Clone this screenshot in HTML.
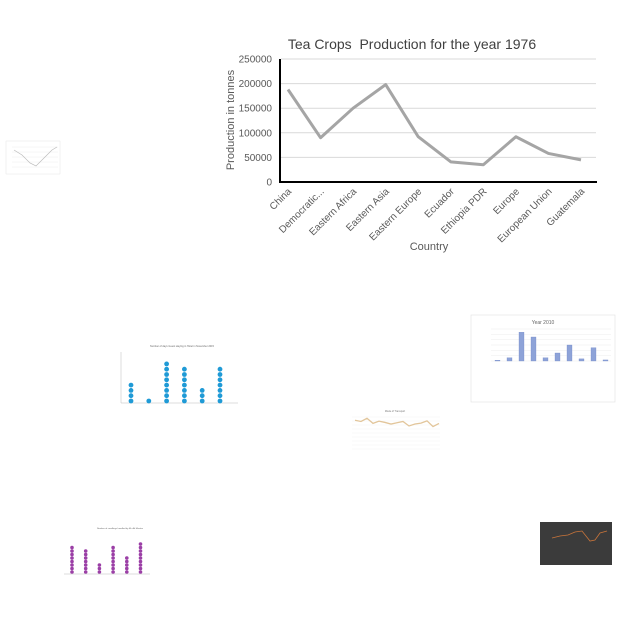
<!DOCTYPE html>
<html><head><meta charset="utf-8"><style>
html,body{margin:0;padding:0;background:#fff;}
svg{display:block;font-family:"Liberation Sans",sans-serif;}
</style></head><body>
<svg width="640" height="640" viewBox="0 0 640 640">
<g id="main"></g>
<g id="thumbs"></g>
</svg>
<script>
const categories=["China","Democratic...","Eastern Africa","Eastern Asia","Eastern Europe","Ecuador","Ethiopia PDR","Europe","European Union","Guatemala"];
const production=[188000,90000,150000,198000,92000,41000,35000,92000,58000,45000];
const yTicks=[0,50000,100000,150000,200000,250000];
const dotCountsBlue=[4,1,8,7,3,7];
const barValues2010=[15,60,540,450,60,150,300,40,250,20];
const lineValues1975=[90,86,96,80,87,83,78,82,86,72,78,81,88,70,80];
const dotCountsPurple=[8,7,3,8,5,9];

const NS="http://www.w3.org/2000/svg";
function el(p,t,a){const e=document.createElementNS(NS,t);for(const k in a)e.setAttribute(k,a[k]);p.appendChild(e);return e;}
const main=document.getElementById('main');
const x0=288,step=(581-288)/9,yBase=182,yTop=59;
const xs=i=>x0+i*step;
const ys=v=>yBase-(v/250000)*(yBase-yTop);

let t=el(main,'text',{x:412,y:49,'text-anchor':'middle','font-size':14,fill:'#404040'});t.textContent="Tea Crops\u00a0 Production for the year 1976";


yTicks.forEach(v=>{
  const y=ys(v);
  if(v>0){const g=el(main,'line',{x1:281,x2:596,y1:y,y2:y,stroke:'#d9d9d9','stroke-width':1});
  
  }
  const l=el(main,'text',{x:272,y:y+3.5,'text-anchor':'end','font-size':10,fill:'#595959'});l.textContent=v;
  
  
});
let a=el(main,'line',{x1:280,x2:280,y1:59,y2:183,stroke:'#000','stroke-width':2});


a=el(main,'line',{x1:279,x2:597,y1:182,y2:182,stroke:'#000','stroke-width':2});


categories.forEach((c,i)=>{
  const x=xs(i)+4,y=192;
  const l=el(main,'text',{x:x,y:y,'text-anchor':'end','font-size':10,fill:'#595959',transform:`rotate(-45 ${x} ${y})`});l.textContent=c;
  
  
});
const p=el(main,'polyline',{points:production.map((v,i)=>xs(i)+','+ys(v)).join(' '),fill:'none',stroke:'#a5a5a5','stroke-width':3,'stroke-linejoin':'round'});


t=el(main,'text',{x:234,y:120,'text-anchor':'middle','font-size':11,fill:'#595959',transform:'rotate(-90 234 120)'});t.textContent="Production in tonnes";


t=el(main,'text',{x:429,y:250,'text-anchor':'middle','font-size':11,fill:'#595959'});t.textContent="Country";



const th=document.getElementById('thumbs');
let g=el(th,'g',{});


el(g,'rect',{x:6,y:141,width:54,height:33,fill:'#fff',stroke:'#e6e6e6','stroke-width':0.5});
for(let i=0;i<5;i++)el(g,'line',{x1:12,x2:58,y1:147+i*5,y2:147+i*5,stroke:'#eee','stroke-width':0.5});
el(g,'polyline',{points:'14,150 22,155 30,163 36,166 44,158 52,150 57,147',fill:'none',stroke:'#bbb','stroke-width':0.7});

g=el(th,'g',{});


t=el(g,'text',{x:182,y:347,'text-anchor':'middle','font-size':2.5,fill:'#666'});t.textContent="Number of days Guest staying in Hotel in November 2015";
el(g,'line',{x1:121,x2:121,y1:352,y2:403,stroke:'#bbb','stroke-width':0.5});
el(g,'line',{x1:121,x2:238,y1:403,y2:403,stroke:'#bbb','stroke-width':0.5});
dotCountsBlue.forEach((n,i)=>{for(let k=0;k<n;k++){const d=el(g,'circle',{cx:131+i*17.8,cy:401-k*5.3,r:2.4,fill:'#1f9ad6'});

}});

g=el(th,'g',{});


el(g,'rect',{x:471,y:315,width:144,height:87,fill:'#fff',stroke:'#e0e0e0','stroke-width':0.6});
t=el(g,'text',{x:543,y:324,'text-anchor':'middle','font-size':5,fill:'#666'});t.textContent="Year 2010";
for(let i=0;i<=6;i++)el(g,'line',{x1:491,x2:611,y1:361-i*5.33,y2:361-i*5.33,stroke:'#e8e8e8','stroke-width':0.4});
barValues2010.forEach((v,i)=>{const h=v/600*32;const b=el(g,'rect',{x:495+i*12,y:361-h,width:5,height:h,fill:'#8ea3d8',stroke:'#6f86c6','stroke-width':0.3});

});

g=el(th,'g',{});


t=el(g,'text',{x:395,y:412,'text-anchor':'middle','font-size':2.5,fill:'#777'});t.textContent="Mode of Transport";
for(let i=0;i<=8;i++)el(g,'line',{x1:352,x2:440,y1:417+i*4,y2:417+i*4,stroke:'#eee','stroke-width':0.4});
el(g,'polyline',{points:lineValues1975.map((v,i)=>(355+i*6)+','+(449-v/100*32)).join(' '),fill:'none',stroke:'#e2c59a','stroke-width':1.3});

g=el(th,'g',{});


t=el(g,'text',{x:120,y:529,'text-anchor':'middle','font-size':2.2,fill:'#666'});t.textContent="Number of seedlings handled by Mr. Ah Monitor";
el(g,'line',{x1:64,x2:150,y1:574,y2:574,stroke:'#bbb','stroke-width':0.5});
dotCountsPurple.forEach((n,i)=>{for(let k=0;k<n;k++){const d=el(g,'circle',{cx:72+i*13.7,cy:572-k*3.5,r:1.8,fill:'#9b3fa6'});

}});

g=el(th,'g',{});


el(g,'rect',{x:540,y:522,width:72,height:43,fill:'#3b3b3b'});
el(g,'polyline',{points:'552,538 560,536 568,535 575,532 582,531 590,541 595,540 600,533 607,531',fill:'none',stroke:'#c8743a','stroke-width':0.8});
</script>
</body></html>
